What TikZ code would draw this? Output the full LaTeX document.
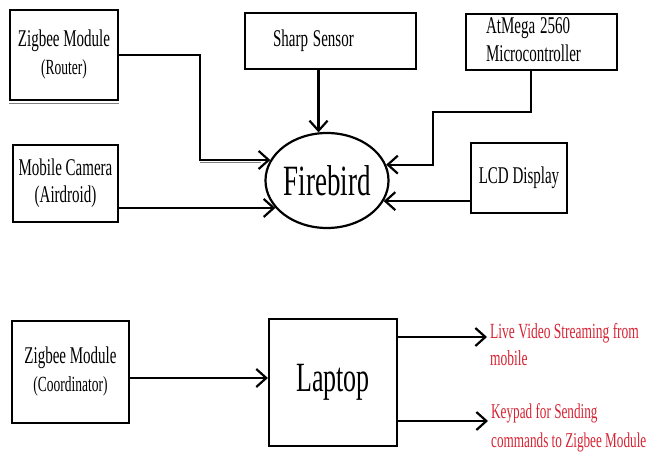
\documentclass[tikz,border=0pt]{standalone}
\usepackage{fontspec}
\setmainfont{Liberation Serif}
\usetikzlibrary{arrows.meta,shapes.geometric}
\definecolor{notered}{RGB}{214,36,52}
\newcommand{\tallt}[1]{\scalebox{1}[1.6]{#1}}
\newcommand{\subf}{\fontsize{13.5}{17}\selectfont}

\begin{document}
\begin{tikzpicture}[x=1pt, y=-1pt,
    blk/.style 2 args={draw, line width=2.2pt,
    minimum width=#1pt, minimum height=#2pt,
    inner sep=0pt, font=\fontsize{15}{17}\selectfont},
    arr/.style={line width=2.2pt, -{Straight Barb[length=10pt,width=18pt]}},
    note/.style={text=notered, anchor=west, inner xsep=3pt, inner ysep=0pt}]
    \useasboundingbox (0,0) rectangle (652,452);
    \node[blk={108}{90}] (zbr) at (64,55)
       {\tallt{\begin{tabular}{@{}c@{}}Zigbee Module\\ \subf (Router)\end{tabular}}};
    \node[blk={105}{77}] (cam) at (65.5,183.5)
       {\tallt{\begin{tabular}{@{}c@{}}Mobile Camera\\ (Airdroid)\end{tabular}}};
    \node[blk={171}{56}, text width=115pt, inner xsep=28pt, align=left] (snr) at (330.5,41)
       {\tallt{Sharp Sensor}};
    \node[blk={151}{54}, text width=111pt, inner xsep=20pt, align=left] (atm) at (541.5,42)
       {\tallt{\begin{tabular}{@{}l@{}}AtMega 2560\\[1pt] Microcontroller\end{tabular}}};
    \node[blk={96}{70}] (lcd) at (519,178) {\tallt{LCD Display}};
    \node[ellipse, draw, line width=2.2pt, minimum width=122pt, minimum height=95pt,
       inner sep=0pt, font=\fontsize{27}{30}\selectfont] (fbd) at (327,180.5) {\tallt{Firebird}};
    \node[blk={117}{102}] (zbc) at (70.5,372)
       {\tallt{\begin{tabular}{@{}c@{}}Zigbee Module\\ \subf (Coordinator)\end{tabular}}};
    \node[blk={128}{127}, font=\fontsize{26}{30}\selectfont] (lap) at (333,382.5) {\tallt{Laptop}};
    \node[note, font=\fontsize{13.5}{17}\selectfont] (vid) at (487,346.5)
       {\tallt{\begin{tabular}{@{}l@{}}Live Video Streaming from\\ mobile\end{tabular}}};
    \node[note, font=\fontsize{13.2}{18.2}\selectfont] (key) at (488,427.5)
       {\tallt{\begin{tabular}{@{}l@{}}Keypad for Sending\\ commands to Zigbee Module\end{tabular}}};
    \coordinate (rbend) at (200,160);
    \coordinate (abend) at (433,112);
    \draw[gray, line width=0.9pt] ([yshift=-2.4pt]zbr.south west) -- ([yshift=-2.4pt]zbr.south east);
    \draw[arr] (zbr.east) -| (rbend) -- (rbend -| fbd.160);
    \draw[gray, line width=0.9pt] ([yshift=-2.4pt]rbend) -- ([yshift=-2.4pt,xshift=-9pt]rbend -| fbd.160);
    \draw[arr] (cam.east |- fbd.208) -- (fbd.208);
    \draw[arr] (fbd.100 |- snr.south) -- (fbd.100);
    \draw[arr] ([xshift=-10.5pt]atm.south) |- (abend) |- (fbd.15);
    \draw[arr] (lcd.west |- fbd.340) -- (fbd.340);
    \draw[arr] ([yshift=-6pt]zbc.east) -- ([yshift=-6pt]zbc.east -| lap.west);
    \draw[arr] ([yshift=9.5pt]vid.west -| lap.east) -- ([yshift=9.5pt]vid.west);
    \draw[arr] ([yshift=6.5pt]key.west -| lap.east) -- ([yshift=6.5pt]key.west);
\end{tikzpicture}
\end{document}
